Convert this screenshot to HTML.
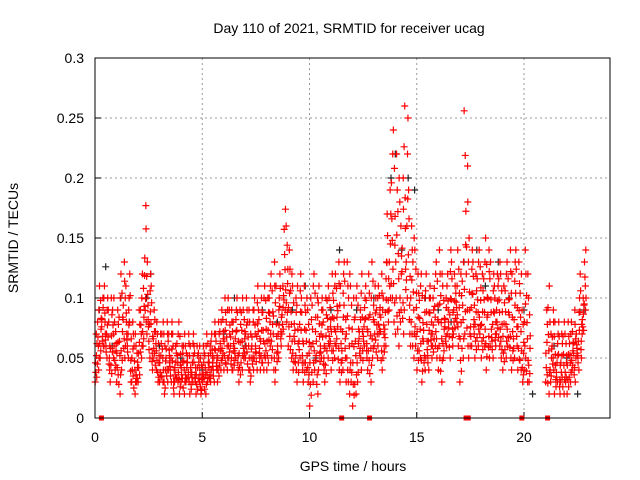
<!DOCTYPE html>
<html><head><meta charset="utf-8"><style>
body{margin:0;background:#fff}
svg{display:block;font-family:"Liberation Sans",sans-serif}
</style></head><body>
<svg id="chart" width="640" height="480">
<text x="349" y="33" font-size="14" text-anchor="middle">Day 110 of 2021, SRMTID for receiver ucag</text>
<text x="353" y="471" font-size="14" text-anchor="middle">GPS time / hours</text>
<text transform="translate(18,238) rotate(-90)" font-size="14" text-anchor="middle">SRMTID / TECUs</text>
<g id="grid"></g><g id="ticks"></g><g id="black"></g><g id="red"></g>
<rect x="95" y="58" width="515" height="360" fill="none" stroke="#000"/>
</svg>
<script>
const xTicks=[0,5,10,15,20];
const yTicks=[0,0.05,0.1,0.15,0.2,0.25,0.3];
const yTickLabels=["0","0.05","0.1","0.15","0.2","0.25","0.3"];
const flagTimes=[0.3,11.5,12.8,17.3,17.4,19.9,21.1];
// per hour, 10 slots of 0.1 h: upper and lower envelope of red points
const redHi=[
[.07,.09,.11,.10,.11,.10,.09,.10,.10,.08],
[.09,.10,.12,.13,.11,.10,.12,.08,.07,.06],
[.09,.10,.12,.177,.13,.12,.11,.09,.08,.07],
[.07,.08,.07,.08,.07,.08,.07,.06,.07,.08],
[.06,.07,.06,.07,.06,.07,.06,.06,.06,.05],
[.06,.06,.07,.06,.07,.08,.07,.08,.08,.09],
[.10,.09,.10,.09,.08,.09,.10,.09,.10,.09],
[.10,.09,.08,.09,.10,.11,.09,.10,.10,.11],
[.10,.11,.12,.13,.11,.10,.12,.11,.174,.16],
[.14,.12,.11,.10,.11,.12,.10,.11,.10,.09],
[.10,.11,.12,.10,.11,.10,.09,.10,.11,.10],
[.12,.11,.12,.13,.11,.12,.13,.13,.12,.11],
[.10,.10,.11,.09,.12,.10,.11,.12,.10,.13],
[.11,.10,.11,.12,.10,.13,.17,.19,.22,.24],
[.22,.20,.18,.20,.26,.25,.19,.16,.15,.14],
[.12,.11,.12,.10,.12,.10,.11,.10,.12,.13],
[.14,.12,.11,.10,.12,.14,.13,.12,.11,.14],
[.12,.13,.256,.21,.15,.14,.13,.12,.13,.14],
[.12,.13,.15,.14,.13,.12,.11,.12,.13,.12],
[.11,.12,.13,.14,.12,.13,.14,.13,.12,.09],
[.14,.12,.10,null,null,null,null,null,null,null],
[.09,.11,.08,.09,.08,.07,.08,.07,.08,.07],
[.08,.07,.08,.09,.07,.10,.12,.10,.14,null]];
const redLo=[
[.03,.04,.05,.06,.06,.05,.04,.03,.05,.04],
[.03,.02,.04,.05,.06,.05,.03,.03,.02,.03],
[.03,.05,.06,.08,.07,.05,.04,.05,.04,.03],
[.03,.03,.02,.03,.04,.03,.02,.03,.03,.02],
[.03,.02,.03,.03,.02,.03,.03,.02,.03,.02],
[.03,.02,.03,.03,.04,.03,.04,.03,.04,.05],
[.04,.04,.05,.04,.04,.05,.04,.03,.04,.05],
[.05,.04,.03,.04,.05,.04,.05,.04,.04,.05],
[.04,.06,.05,.03,.04,.05,.06,.07,.09,.08],
[.06,.05,.04,.04,.03,.05,.04,.03,.04,.03],
[.01,.03,.04,.02,.04,.05,.04,.03,.05,.06],
[.04,.05,.06,.04,.03,.04,.05,.03,.02,.03],
[.01,.02,.03,.05,.04,.06,.05,.04,.03,.05],
[.06,.05,.07,.04,.05,.06,.08,.09,.10,.08],
[.07,.06,.08,.07,.09,.10,.07,.06,.05,.06],
[.04,.05,.03,.04,.05,.04,.06,.05,.06,.05],
[.04,.03,.05,.06,.07,.05,.06,.07,.08,.06],
[.03,.05,.07,.06,.05,.06,.07,.05,.06,.07],
[.05,.06,.04,.05,.06,.05,.06,.07,.06,.05],
[.04,.05,.06,.05,.04,.05,.06,.04,.04,.03],
[.04,.03,.03,null,null,null,null,null,null,null],
[.03,.02,.03,.04,.02,.03,.02,.03,.02,.03],
[.02,.03,.04,.03,.05,.04,.05,.07,.09,null]];
const blackT=[0.2,0.4,0.5,0.8,1.2,1.6,2.4,2.6,3.0,4.0,5.0,6.0,6.5,7.0,7.8,8.5,9.2,9.8,10.3,11.0,11.4,12.2,13.0,13.8,14.0,14.3,14.6,14.9,15.4,16.0,16.6,17.2,17.8,18.2,18.8,19.3,20.0,20.4,21.4,22.0,22.5,22.8];
const blackV=[0.09,0.1,0.126,0.06,0.1,0.08,0.1,0.12,0.06,0.05,0.04,0.07,0.1,0.06,0.09,0.08,0.09,0.11,0.05,0.09,0.14,0.09,0.1,0.2,0.22,0.14,0.2,0.19,0.1,0.09,0.08,0.13,0.14,0.11,0.13,0.1,0.09,0.02,0.06,0.05,0.02,0.09];
const x=t=>95+t*21.45, y=v=>418-v*1200;
const NS="http://www.w3.org/2000/svg";
function mk(tag,attrs,parent){const e=document.createElementNS(NS,tag);for(const k in attrs)e.setAttribute(k,attrs[k]);parent.appendChild(e);return e;}
const grid=document.getElementById('grid'),ticks=document.getElementById('ticks');
xTicks.forEach(t=>{
 if(t>0){const g=mk('line',{x1:x(t),x2:x(t),y1:58,y2:418,stroke:'#999','stroke-dasharray':'2,3'},grid);
 
 }
 const l=mk('text',{x:x(t),y:442,'font-size':14,'text-anchor':'middle'},ticks);l.textContent=t;
 
 
 mk('line',{x1:x(t),x2:x(t),y1:418,y2:412,stroke:'#000'},ticks);
});
yTicks.forEach((v,i)=>{
 if(v>0&&v<0.3){const g=mk('line',{x1:95,x2:610,y1:y(v),y2:y(v),stroke:'#999','stroke-dasharray':'2,3'},grid);
 
 }
 const l=mk('text',{x:84,y:y(v)+5,'font-size':14,'text-anchor':'end'},ticks);l.textContent=yTickLabels[i];
 
 
 mk('line',{x1:95,x2:101,y1:y(v),y2:y(v),stroke:'#000'},ticks);
});
function plus(g,t,v,c){const p=mk('path',{d:`M${x(t)-3.5},${y(v)}h7M${x(t)},${y(v)-3.5}v7`,stroke:c,'stroke-width':1.2,fill:'none'},g);
 
 }
const bg=document.getElementById('black'),rg=document.getElementById('red');
const xo=[-0.04,0.02,-0.01,0.04,-0.03,0.01,0.03];
const fr=[0,0.55,0.2,0.8,0.4,1,0.1];
redHi.forEach((row,h)=>row.forEach((hi,k)=>{
 if(hi===null)return;
 const lo=redLo[h][k],t=h+0.05+0.1*k;
 for(let j=0;j<7;j++){plus(rg,t+xo[(j+k)%7],lo+(hi-lo)*fr[j],'#f00');}
}));
blackT.forEach((t,i)=>plus(bg,t,blackV[i],'#222'));
flagTimes.forEach(t=>{const r=mk('rect',{x:x(t)-2.5,y:415.5,width:5,height:5,fill:'#f00'},rg);
 
 });
</script>
</body></html>
